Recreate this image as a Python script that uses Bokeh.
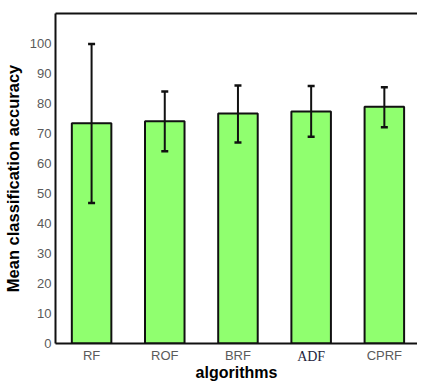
from bokeh.plotting import figure
from bokeh.models import (ColumnDataSource, Range1d, FixedTicker, LinearAxis,
                          Whisker, TeeHead)
from bokeh.embed import file_html
from bokeh.resources import INLINE

# ---- data ----
algorithms = ["RF", "ROF", "BRF", "ADF", "CPRF"]
mean_acc = [73.4, 74.1, 76.7, 77.3, 78.9]
err_up = [26.4, 9.9, 9.3, 8.5, 6.5]
err_down = [26.6, 10.0, 9.7, 8.4, 6.8]
y_ticks = [0, 10, 20, 30, 40, 50, 60, 70, 80, 90, 100]
serif_label = "ADF"

xs = list(range(len(algorithms)))
src = ColumnDataSource(dict(
    x=xs,
    top=mean_acc,
    upper=[m + u for m, u in zip(mean_acc, err_up)],
    lower=[m - d for m, d in zip(mean_acc, err_down)],
))

FONT = "Liberation Sans"

p = figure(width=417, height=383, output_backend="svg", toolbar_location=None,
           x_range=Range1d(-0.493, 4.453), y_range=Range1d(0, 110),
           min_border_left=51, min_border_right=0, min_border_top=13,
           min_border_bottom=0)
p.outline_line_color = None
p.xgrid.visible = False
p.ygrid.visible = False
p.background_fill_color = "white"
p.border_fill_color = "white"

p.vbar(x="x", top="top", width=0.54, source=src, fill_color="#90ff6f",
       line_color="#111111", line_width=2)

wh = Whisker(source=src, base="x", upper="upper", lower="lower",
             line_color="#111111", line_width=2, level="overlay",
             upper_head=TeeHead(size=7, line_width=2.5, line_color="#111111"),
             lower_head=TeeHead(size=7, line_width=2.5, line_color="#111111"))
p.add_layout(wh)

# y axis
ya = p.yaxis[0]
ya.ticker = FixedTicker(ticks=y_ticks)
ya.axis_label = "Mean classification accuracy"
ya.axis_label_text_font = FONT
ya.axis_label_text_font_style = "bold"
ya.axis_label_text_font_size = "16.5px"
ya.axis_label_text_color = "black"
ya.axis_label_standoff = 5
ya.major_label_text_font = FONT
ya.major_label_text_font_size = "13px"
ya.major_label_text_color = "#5a5a5a"
ya.major_label_standoff = 4
ya.major_tick_out = 0
ya.major_tick_in = 0
ya.minor_tick_out = 0
ya.minor_tick_in = 0
ya.axis_line_width = 2
ya.axis_line_color = "#111111"

serif_idx = [i for i, n in zip(xs, algorithms) if n == serif_label]
sans_idx = [i for i, n in zip(xs, algorithms) if n != serif_label]
names = dict(zip(xs, algorithms))

# x axis 1 (closest to the frame): carries the axis line and the serif label
xa = p.xaxis[0]
xa.ticker = FixedTicker(ticks=serif_idx)
xa.major_label_overrides = {i: names[i] for i in serif_idx}
xa.major_label_text_font = "Liberation Serif"
xa.major_label_text_font_size = "14px"
xa.major_label_text_color = "#1e1e3c"
xa.major_label_standoff = 5
xa.major_tick_out = 0
xa.major_tick_in = 0
xa.minor_tick_out = 0
xa.minor_tick_in = 0
xa.axis_line_width = 2
xa.axis_line_color = "#111111"

# x axis 2: sans labels pulled up onto the same row, plus the axis title
xb = LinearAxis(ticker=FixedTicker(ticks=sans_idx),
                major_label_overrides={i: names[i] for i in sans_idx},
                major_label_text_font=FONT, major_label_text_font_size="13px",
                major_label_text_color="#5a5a5a", major_label_standoff=-19,
                major_tick_out=0, major_tick_in=0, minor_tick_out=0,
                minor_tick_in=0, axis_line_color=None,
                axis_label="algorithms", axis_label_text_font=FONT,
                axis_label_text_font_style="bold",
                axis_label_text_font_size="16px",
                axis_label_text_color="black", axis_label_standoff=-2)
p.add_layout(xb, "below")

# top border as an empty axis
top_ax = LinearAxis(ticker=FixedTicker(ticks=[]), major_tick_out=0,
                    major_tick_in=0, minor_tick_out=0, minor_tick_in=0,
                    major_label_standoff=0, major_label_text_font_size="0px",
                    axis_line_width=2, axis_line_color="#111111")
p.add_layout(top_ax, "above")

open("out.html", "w").write(file_html(p, INLINE))
